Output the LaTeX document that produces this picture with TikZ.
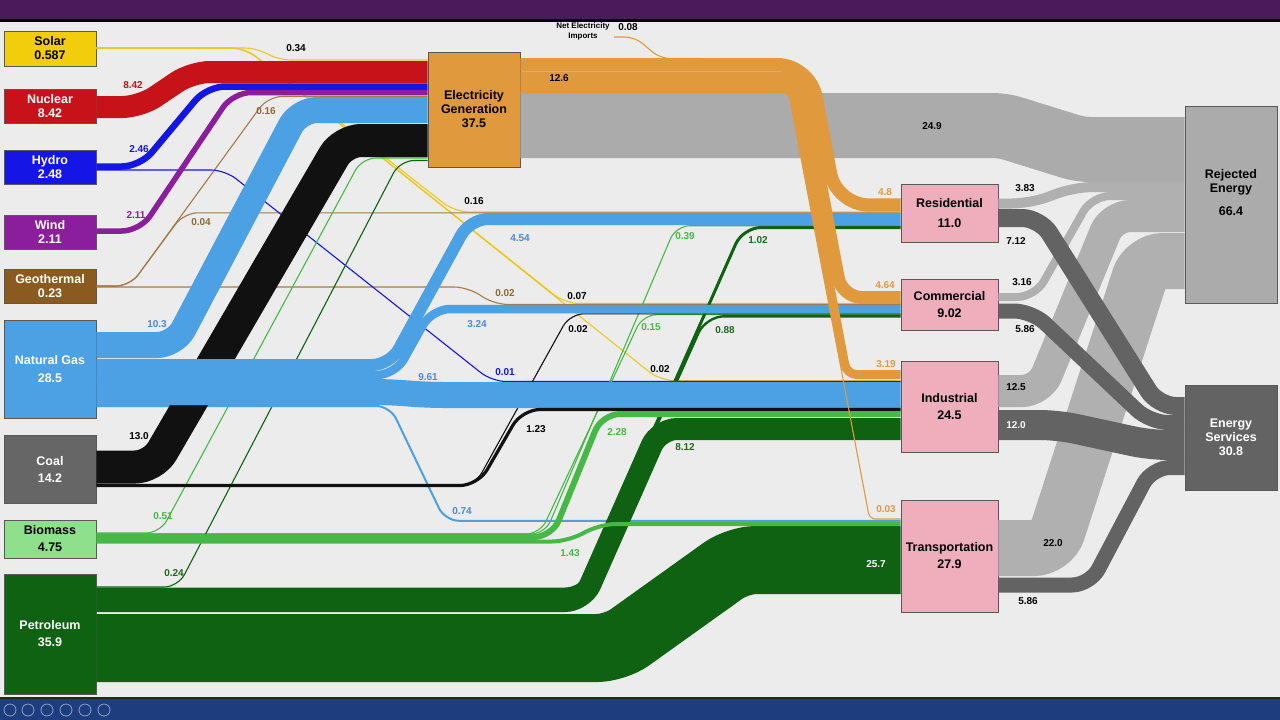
\documentclass[tikz,border=0pt]{standalone}
\usepackage{fontspec}
\setmainfont{Liberation Sans}
\newcommand\boxfont{\fontsize{12.5}{14}\selectfont\bfseries}
\newcommand\lblfont{\fontsize{10}{12}\selectfont\bfseries}
\newcommand\tinyfont{\fontsize{8}{9.5}\selectfont\bfseries}
\definecolor{cBg}{HTML}{ECECEC}
\definecolor{cHead}{HTML}{4A1A5A}
\definecolor{cFoot}{HTML}{1E3D7E}
\definecolor{cIcon}{HTML}{8FA3C8}
\definecolor{cSolar}{HTML}{F2CD0C}
\definecolor{cSolarLine}{HTML}{EBC91E}
\definecolor{cNuc}{HTML}{C8121A}
\definecolor{cHydro}{HTML}{1515E6}
\definecolor{cWind}{HTML}{8A1E9C}
\definecolor{cGeo}{HTML}{8A5A1E}
\definecolor{cGeoLine}{HTML}{A67A48}
\definecolor{cGeoTxt}{HTML}{8F6A30}
\definecolor{cGas}{HTML}{4BA1E3}
\definecolor{cGasTxt}{HTML}{4A8AD6}
\definecolor{cCoalBox}{HTML}{666666}
\definecolor{cCoal}{HTML}{111111}
\definecolor{cBioBox}{HTML}{8EE08C}
\definecolor{cBio}{HTML}{46B846}
\definecolor{cPet}{HTML}{0F6212}
\definecolor{cPetTxt}{HTML}{1D6A1D}
\definecolor{cElec}{HTML}{E09A3D}
\definecolor{cElecTxt}{HTML}{E49A45}
\definecolor{cSector}{HTML}{EEAEBC}
\definecolor{cRej}{HTML}{ABABAB}
\definecolor{cLoss}{HTML}{B0B0B0}
\definecolor{cServ}{HTML}{636363}
\tikzset{
	box/.style={draw=black!65, line width=0.7pt, inner sep=0pt, align=center, font=\boxfont, minimum width=92pt},
	band/.style={line width=#1, rounded corners=18pt},
	wire/.style={line width=1.1pt, rounded corners=14pt},
	lbl/.style={font=\lblfont, inner sep=0pt}
}
\begin{document}
\begin{tikzpicture}[x=1pt, y=-1pt]
		\useasboundingbox (0,0) rectangle (1280,720);
		\fill[cBg] (0,0) rectangle (1280,720);
		\fill[cHead] (0,0) rectangle (1280,19);
		\fill[black] (0,19) rectangle (1280,21.5);
		\fill[black!85] (0,696.5) rectangle (1280,699);
		\fill[cFoot] (0,699) rectangle (1280,720);
		\foreach \x in {10,28,47,66,85,104}
			\draw[cIcon, line width=0.8pt] (\x,710) circle (6pt);
		% sources
		\node[box, fill=cSolar, minimum height=35pt] (solar) at (50,48.5) {Solar\\0.587};
		\node[box, fill=cNuc, text=white, minimum height=34pt] (nuc) at (50,106) {Nuclear\\8.42};
		\node[box, fill=cHydro, text=white, minimum height=34pt] (hydro) at (50,167) {Hydro\\2.48};
		\node[box, fill=cWind, text=white, minimum height=34pt] (wind) at (50,232) {Wind\\2.11};
		\node[box, fill=cGeo, text=white, minimum height=34pt] (geo) at (50,286) {Geothermal\\0.23};
		\node[box, fill=cGas, text=white, minimum height=98pt] (ng) at (50,369) {Natural Gas\\[4pt]28.5};
		\node[box, fill=cCoalBox, text=white, minimum height=68pt] (coal) at (50,469) {Coal\\[3pt]14.2};
		\node[box, fill=cBioBox, minimum height=38pt] (bio) at (50,539) {Biomass\\[3pt]4.75};
		\node[box, fill=cPet, text=white, minimum height=120pt] (pet) at (50,634) {Petroleum\\[3pt]35.9};
		% conversion and sectors
		\node[box, fill=cElec, minimum height=115pt] (elec) at (474,109.5) {Electricity\\Generation\\37.5};
		\node[box, fill=cSector, minimum width=97pt, minimum height=58pt] (res) at (949.5,213) {Residential\\[6pt]11.0};
		\node[box, fill=cSector, minimum width=97pt, minimum height=51pt] (com) at (949.5,304.5) {Commercial\\[3pt]9.02};
		\node[box, fill=cSector, minimum width=97pt, minimum height=91pt] (ind) at (949.5,406.5) {Industrial\\[3pt]24.5};
		\node[box, fill=cSector, minimum width=97pt, minimum height=112pt] (tra) at (949.5,556) {Transportation\\[3pt]27.9};
		\node[box, fill=cRej, minimum height=197pt] (rej) at (1231,204.5) {};
		\node[font=\boxfont, align=center] (rej-t) at (1231,192.5) {Rejected\\Energy\\[9pt]66.4};
		\node[box, fill=cServ, text=white, minimum height=105pt] (es) at (1231,437.5) {Energy\\Services\\30.8};
		% losses and services
		\draw[band=65pt, cRej, rounded corners=10pt] (elec.east |- 0,125.5) -- (1003,125.5) -- (1080,149.5) -- (rej.west |- 0,149.5);
		\draw[band=10pt, cLoss] (res.east |- 0,203.5) -- (1030,203.5) -- (1075,187) -- (rej.west |- 0,187);
		\draw[band=8pt, cLoss] (com.east |- 0,297) -- (1035,297) -- (1092,196) -- (rej.west |- 0,196);
		\draw[band=32pt, cLoss] (ind.east |- 0,391) -- (1040,391) -- (1112,216) -- (rej.west |- 0,216);
		\draw[band=56pt, cLoss] (tra.east |- 0,548) -- (1052,548) -- (1145,261) -- (rej.west |- 0,261);
		\draw[band=18pt, cServ] (res.east |- 0,218) -- (1040,218) -- (1158,406) -- (es.west |- 0,406);
		\draw[band=15pt, cServ] (com.east |- 0,311) -- (1032,311) -- (1150,422.5) -- (es.west |- 0,422.5);
		\draw[band=30pt, cServ] (ind.east |- 0,425) -- (1058,425) -- (1150,445) -- (es.west |- 0,445);
		\draw[band=15pt, cServ] (tra.east |- 0,585) -- (1090,585) -- (1152,467.5) -- (es.west |- 0,467.5);
		% thin flows, behind the bands
		\draw[wire, cSolarLine, rounded corners=10pt] (solar.east |- 0,48) -- (255,48) -- (280,60) -- (elec.west |- 0,60);
		\draw[wire, cSolarLine] (solar.east |- 0,48) -- (245,48) -- (455,212) -- (res.west |- 0,212);
		\draw[wire, cSolarLine] (solar.east |- 0,48) -- (245,48) -- (565,303.5) -- (com.west |- 0,303.5);
		\draw[wire, cSolarLine] (solar.east |- 0,48) -- (245,48) -- (660,380.5) -- (ind.west |- 0,380.5);
		\draw[wire, cGeoLine] (geo.east |- 0,286) -- (130,286) -- (268,96.5) -- (elec.west |- 0,96.5);
		\draw[wire, cGeoLine] (geo.east |- 0,286) -- (130,286) -- (184,212.8) -- (res.west |- 0,212.8);
		\draw[wire, cGeoLine] (geo.east |- 0,287) -- (468,287) -- (494,304.5) -- (com.west |- 0,304.5);
		\draw[wire, cHydro] (hydro.east |- 0,170) -- (225,170) -- (492,381.5) -- (ind.west |- 0,381.5);
		\draw[wire, cBio] (bio.east |- 0,533) -- (160,533) -- (362,158) -- (elec.west |- 0,158);
		\draw[wire, cBio] (bio.east |- 0,534) -- (545,534) -- (676,225.7) -- (res.west |- 0,225.7);
		\draw[wire, cBio] (bio.east |- 0,534) -- (540,534) -- (643,314.6) -- (com.west |- 0,314.6);
		\draw[wire, cPet] (pet.east |- 0,587) -- (178,587) -- (400,160.5) -- (elec.west |- 0,160.5);
		\draw[wire, cCoal] (coal.east |- 0,485) -- (475,485) -- (570,313.8) -- (com.west |- 0,313.8);
		\draw[wire, cGas, line width=2pt] (ng.east |- 0,406) -- (390,406) -- (445,520.8) -- (tra.west |- 0,520.8);
		\draw[band=3pt, cPet] (pet.east |- 0,589) -- (583,589) -- (743,227.5) -- (res.west |- 0,227.5);
		\draw[band=2.4pt, cPet] (pet.east |- 0,590) -- (583,590) -- (706,316.3) -- (com.west |- 0,316.3);
		% into electricity generation
		\draw[band=22pt, cNuc] (nuc.east |- 0,107) -- (140,107) -- (192,72) -- (elec.west |- 0,72);
		\draw[band=6.5pt, cHydro] (hydro.east |- 0,166.5) -- (140,166.5) -- (207,86.5) -- (elec.west |- 0,86.5);
		\draw[band=5.5pt, cWind] (wind.east |- 0,231) -- (140,231) -- (233,92.5) -- (elec.west |- 0,92.5);
		\draw[band=26pt, cGas] (ng.east |- 0,345) -- (175,345) -- (299,110) -- (elec.west |- 0,110);
		\draw[band=33pt, cCoal] (coal.east |- 0,467) -- (153,467) -- (343,140.5) -- (elec.west |- 0,140.5);
		% into the sectors
		\draw[band=12pt, cGas] (ng.east |- 0,365) -- (390,365) -- (470,219) -- (res.west |- 0,219);
		\draw[band=8.5pt, cGas] (ng.east |- 0,375) -- (395,375) -- (432,309) -- (com.west |- 0,309);
		\draw[band=26pt, cGas] (ng.east |- 0,392) -- (392,392) -- (425,395) -- (ind.west |- 0,395);
		\draw[band=3.2pt, cCoal] (coal.east |- 0,485.5) -- (478,485.5) -- (522,409.5) -- (ind.west |- 0,409.5);
		\draw[band=68pt, cPet] (pet.east |- 0,648) -- (615,648) -- (738,560) -- (tra.west |- 0,560);
		\draw[band=22pt, cPet] (pet.east |- 0,601) -- (583,601) -- (659,429) -- (ind.west |- 0,429);
		\draw[band=6pt, cBio] (bio.east |- 0,537) -- (552,537) -- (602,414) -- (ind.west |- 0,414);
		\draw[band=4pt, cBio] (bio.east |- 0,541.5) -- (570,541.5) -- (598,524) -- (tra.west |- 0,524);
		% electricity out
		\coordinate (imp) at (614,37);
		\coordinate (imp-in) at (700,58.5);
		\draw[wire, cElec, rounded corners=10pt] (imp) -- (635,37) -- (660,58.5) -- (imp-in);
		\draw[band=13.3pt, cElec, rounded corners=32pt] (elec.east |- 0,64.7) -- (809.8,64.7) -- (836.5,205) -- (res.west |- 0,205);
		\draw[band=12.9pt, cElec, rounded corners=20pt] (elec.east |- 0,77.8) -- (800.3,77.8) -- (842,297.5) -- (com.west |- 0,297.5);
		\draw[band=8.9pt, cElec, rounded corners=10pt] (elec.east |- 0,88.6) -- (792.3,88.6) -- (846.7,374.5) -- (ind.west |- 0,374.5);
		\draw[wire, cElec, rounded corners=6pt] (elec.east |- 0,92.5) -- (788.6,92.5) -- (869.6,519) -- (tra.west |- 0,519);
		% values
		\begin{scope}[every node/.style={lbl}]
			\node[text=black] (v-se) at (296,48) {0.34};
			\node[text=cNuc] (v-ne) at (133,85) {8.42};
			\node[text=cHydro] (v-he) at (139,149) {2.46};
			\node[text=cWind] (v-we) at (136,215) {2.11};
			\node[text=cGeoTxt] (v-ge) at (266,111) {0.16};
			\node[text=cGeoTxt] (v-gr) at (201,222) {0.04};
			\node[text=cGasTxt] (v-ngel) at (157,324) {10.3};
			\node[text=black] (v-ce) at (139,436) {13.0};
			\node[text=cBio] (v-be) at (163,516) {0.51};
			\node[text=cPetTxt] (v-pe) at (174,573) {0.24};
			\node[text=black] (v-eo) at (559,78) {12.6};
			\node[font=\tinyfont, align=center] (v-imp) at (583,31.5) {Net Electricity\\Imports};
			\node[text=black] (v-impv) at (628,27) {0.08};
			\node[text=black] (v-er) at (932,126) {24.9};
			\node[text=black] (v-sr) at (474,201) {0.16};
			\node[text=cGasTxt] (v-ngr) at (520,238) {4.54};
			\node[text=cGeoTxt] (v-gc) at (505,293) {0.02};
			\node[text=black] (v-sc) at (577,296) {0.07};
			\node[text=cGasTxt] (v-ngc) at (477,324) {3.24};
			\node[text=black] (v-cc) at (578,329) {0.02};
			\node[text=cHydro] (v-hi) at (505,372) {0.01};
			\node[text=cGasTxt] (v-ngi) at (428,377) {9.61};
			\node[text=black] (v-si) at (660,369) {0.02};
			\node[text=cBio] (v-br) at (685,236) {0.39};
			\node[text=cPetTxt] (v-pr) at (758,240) {1.02};
			\node[text=cBio] (v-bc) at (651,327) {0.15};
			\node[text=cPetTxt] (v-pc) at (725,330) {0.88};
			\node[text=black] (v-ci) at (536,429) {1.23};
			\node[text=cBio] (v-bi) at (617,432) {2.28};
			\node[text=cPetTxt] (v-pi) at (685,447) {8.12};
			\node[text=cGasTxt] (v-ngt) at (462,511) {0.74};
			\node[text=cBio] (v-bt) at (570,553) {1.43};
			\node[text=white] (v-pt) at (876,564) {25.7};
			\node[text=cElecTxt] (v-elr) at (885,192) {4.8};
			\node[text=cElecTxt] (v-elc) at (885,285) {4.64};
			\node[text=cElecTxt] (v-eli) at (886,364) {3.19};
			\node[text=cElecTxt] (v-elt) at (886,509) {0.03};
			\node[text=black] (v-rr) at (1025,188) {3.83};
			\node[text=black] (v-rs) at (1016,241) {7.12};
			\node[text=black] (v-cr) at (1022,282) {3.16};
			\node[text=black] (v-cs) at (1025,329) {5.86};
			\node[text=black] (v-ir) at (1016,387) {12.5};
			\node[text=white] (v-is) at (1016,425) {12.0};
			\node[text=black] (v-tr) at (1053,543) {22.0};
			\node[text=black] (v-ts) at (1028,601) {5.86};
		\end{scope}
	\end{tikzpicture}
\end{document}
